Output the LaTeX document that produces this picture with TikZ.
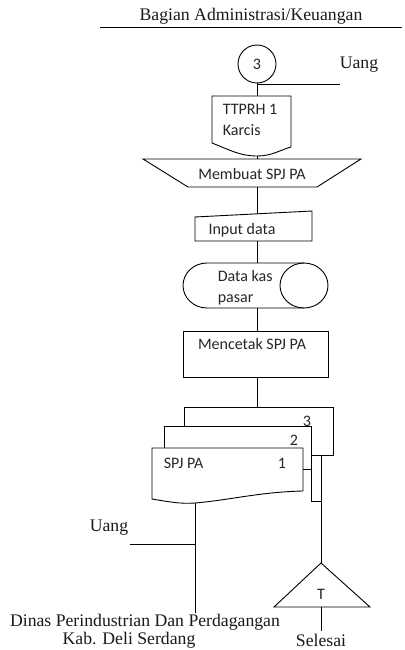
\documentclass[tikz,border=0pt]{standalone}
\usepackage{fontspec}
\setmainfont{Liberation Serif}
\newfontfamily\calfont{Carlito}
\begin{document}
\begin{tikzpicture}[x=1pt,y=-1pt,
  line width=0.9pt,
  serif/.style={font=\fontsize{17.7}{20}\selectfont, text=black!90},
  sans/.style={font=\calfont\fontsize{16}{20.5}\selectfont, text=black!85}]
\useasboundingbox (0,0) rectangle (404,650);

% header
\node[serif] (head) at (251,16) {Bagian Administrasi/Keuangan};
\coordinate (hl) at (100,27);
\coordinate (hr) at (402,27);
\draw (hl) -- (hr);

% connector circle 3
\node[circle, draw, minimum size=38pt, inner sep=0pt, sans] (c3) at (257,64) {3};
\node[serif] (uang1) at (359,65) {Uang};
\coordinate (u1end) at (340,84);

% document TTPRH
\coordinate (ttTop) at (257,96);
\coordinate (ttBot) at (257,156);
\draw (212,143) -- (212,96) -- (291,96) -- (291,147)
  .. controls (280,150) and (272,156) .. (ttBot)
  .. controls (240,156) and (230,150) .. (212,143);
\node[sans, anchor=west, align=left] (ttprh) at (219,120) {TTPRH 1\\Karcis};

\draw (c3.south) -- (ttTop);
\draw (c3.south |- u1end) -- (u1end);

% manual operation
\coordinate (buatTop) at (257,159);
\coordinate (buatBot) at (257,187);
\draw (143,159) -- (361,159) -- (317,187) -- (188,187) -- cycle;
\node[sans] (buat) at (252,174) {Membuat SPJ PA};
\draw (ttBot) -- (buatTop);

% manual input
\coordinate (inTop) at (257,213.8);
\coordinate (inBot) at (257,241);
\draw (195,217) -- (312,211) -- (312,241) -- (195,241) -- cycle;
\node[sans] (input) at (242,230) {Input data};
\draw (buatBot) -- (inTop);

% direct access storage
\coordinate (dbTop) at (257,263);
\coordinate (dbBot) at (257,308);
\draw (304,263) -- (207,263) arc[start angle=-90, end angle=-270, x radius=24, y radius=22.5] -- (304,308);
\draw (304,285.5) ellipse [x radius=24, y radius=22.5];
\node[sans, anchor=west, align=left] (data) at (214,287.5) {Data kas\\pasar};
\draw (inBot) -- (dbTop);

% process
\node[draw, minimum width=145pt, minimum height=46pt, inner sep=0pt] (cetakbox) at (255.5,354) {};
\node[sans] (cetak) at (252,344) {Mencetak SPJ PA};
\coordinate (cTop) at (257,331);
\coordinate (cBot) at (257,377);
\draw (dbBot) -- (cTop);

% multiple documents
\coordinate (mTop) at (257,407);
\draw (184,426) -- (184,407) -- (333,407) -- (333,455) -- (311,455);
\draw (164,448) -- (164,426) -- (311,426) -- (311,501) -- (321,501);
\coordinate (d1Bot) at (195,503);
\draw (303,469) -- (311,469);
\draw (152,448) -- (303,448) -- (303,491)
  .. controls (260,492) and (230,500) .. (d1Bot)
  .. controls (180,504) and (170,502) .. (152,499) -- cycle;
\node[sans] (n3) at (307,421) {3};
\node[sans] (n2) at (294,440) {2};
\node[sans] (n1) at (282,463) {1};
\node[sans, anchor=west] (spj) at (160,463) {SPJ PA};
\draw (cBot) -- (mTop);

% terminator triangle
\coordinate (mOut) at (321,456);
\coordinate (tTop) at (321,563);
\coordinate (tBot) at (321,607);
\draw (tTop) -- (370,607) -- (274,607) -- cycle;
\node[sans] (t) at (321,594) {T};
\draw (mOut) -- (tTop);
\node[serif, inner sep=0.5pt] (selesai) at (321,640) {Selesai};
\coordinate (selTop) at (321,631);
\draw (tBot) -- (selTop);

% output to Dinas
\node[serif] (uang2) at (109,528) {Uang};
\coordinate (u2end) at (130,544);
\node[serif, inner sep=0.5pt] (dinas) at (145,622) {Dinas Perindustrian Dan Perdagangan};
\node[serif, inner sep=0.5pt] (kab) at (129,640) {Kab. Deli Serdang};
\coordinate (dinTop) at (195,613);
\draw (d1Bot) -- (dinTop);
\draw (u2end) -- (d1Bot |- u2end);
\end{tikzpicture}
\end{document}
